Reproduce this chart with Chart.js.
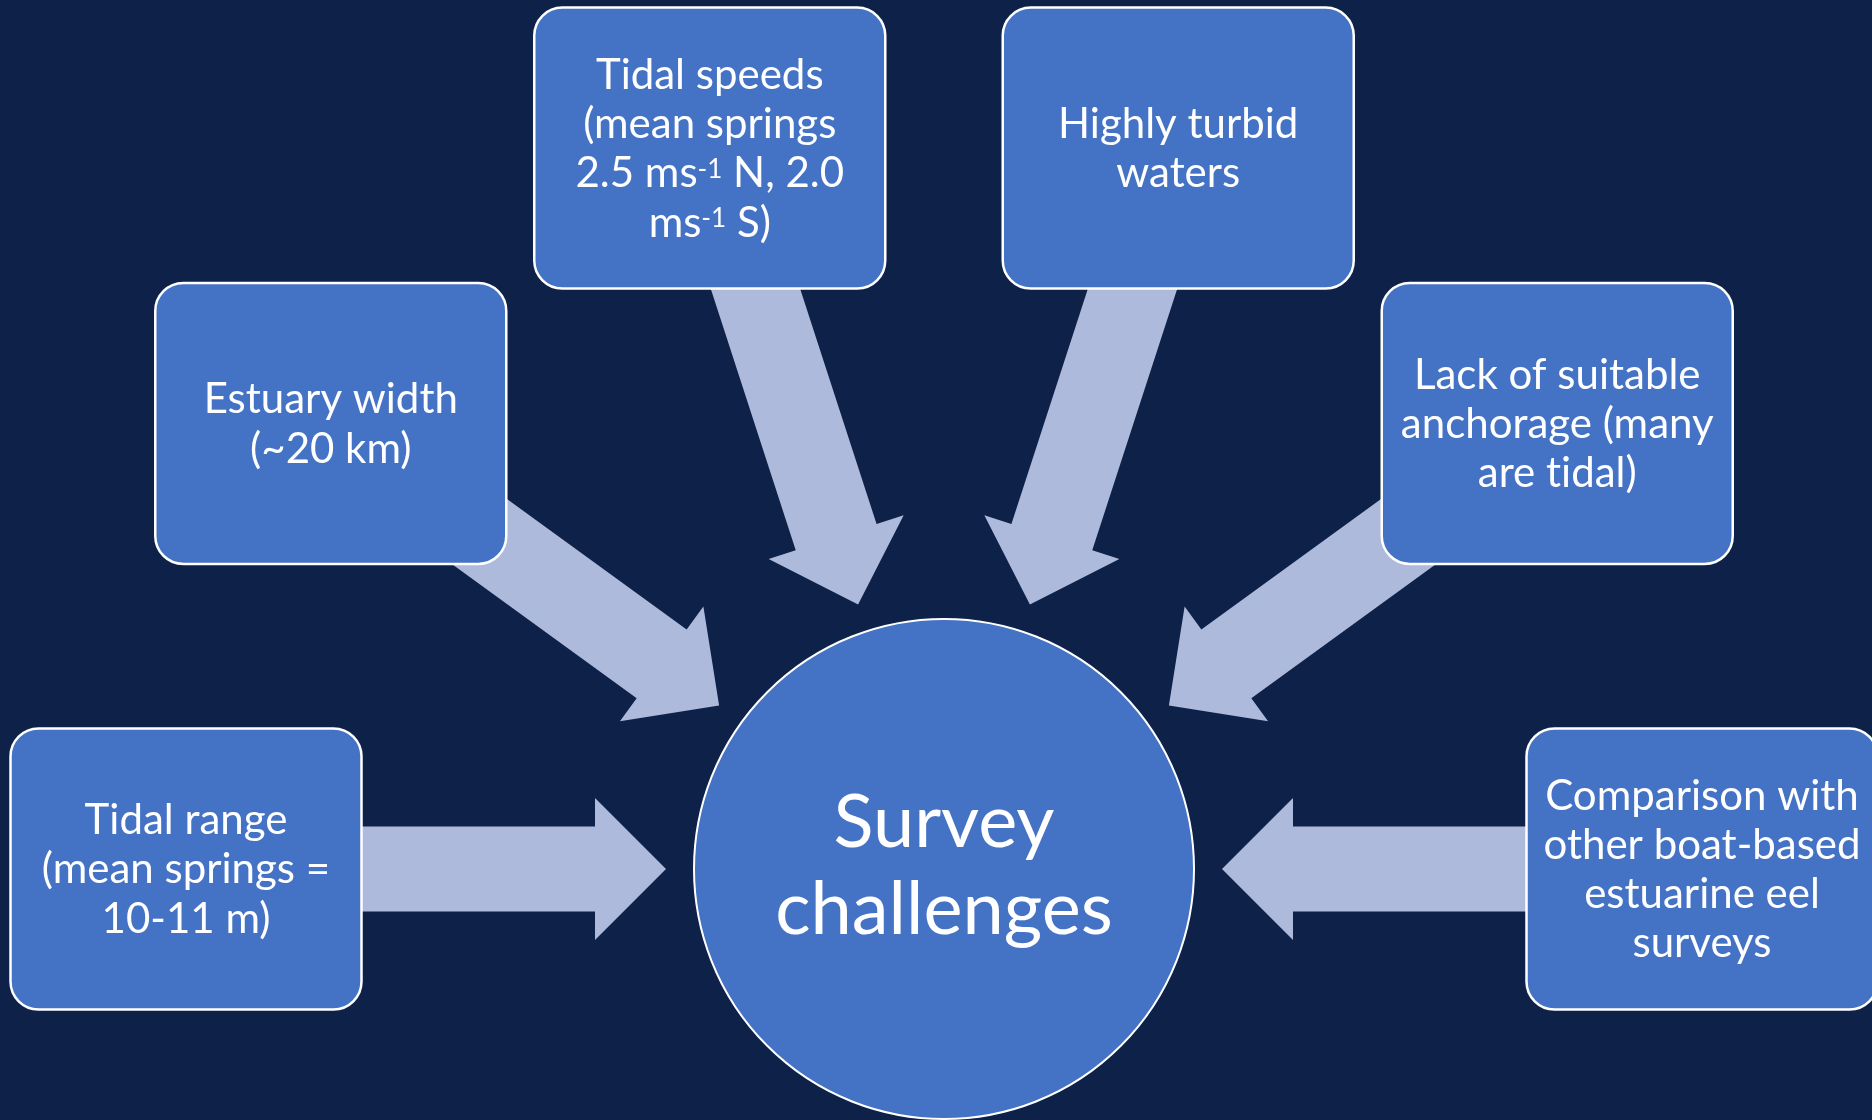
<!DOCTYPE html>
<html>
<head>
<meta charset="utf-8">
<script src="https://cdn.jsdelivr.net/npm/chart.js@4.4.1/dist/chart.umd.min.js"></script>
<style>
    html, body { margin: 0; padding: 0; background: #0e2148; }
    canvas { display: block; }
</style>
</head>
<body>
<canvas id="diagram" width="1872" height="1120"></canvas>
<script>
// Box texts, from the left box round to the right one (line breaks as on the slide)
// ^{..} marks a superscript
const challenges = [
    ['Tidal range', '(mean springs =', '10-11 m)'],
    ['Estuary width', '(~20 km)'],
    ['Tidal speeds', '(mean springs', '2.5 ms^{-1} N, 2.0', 'ms^{-1} S)'],
    ['Highly turbid', 'waters'],
    ['Lack of suitable', 'anchorage (many', 'are tidal)'],
    ['Comparison with', 'other boat-based', 'estuarine eel', 'surveys'],
];
const centreLabel = ['Survey', 'challenges'];

// layout (slide coordinates)
const nodeAngles = [180, 144, 108, 72, 36, 0]; // degrees, 0 = right
const centre = { x: 944, y: 869 };
const ringRadius = 758;
const circleRadius = 250;
const boxW = 351;
const boxH = 281;

const colors = {
    background: '#0e2148',
    box: '#4472c4',
    arrow: '#aebadc',
    stroke: '#ffffff',
    text: '#ffffff',
};

const boxFont = 42;
const boxLineHeight = 49.3;
const centreFont = 74;
const centreLineHeight = 87;

// split "ms^{-1} S)" into normal / superscript pieces
function splitSup(line) {
    const parts = [];
    const re = /\^\{([^}]*)\}/g;
    let last = 0;
    let m;
    while ((m = re.exec(line)) !== null) {
        if (m.index > last) parts.push({ text: line.slice(last, m.index), sup: false });
        parts.push({ text: m[1], sup: true });
        last = re.lastIndex;
    }
    if (last < line.length) parts.push({ text: line.slice(last), sup: false });
    return parts;
}

function drawLines(ctx, lines, cx, cy, size, lineHeight) {
    const capHalf = size * 0.69 / 2;
    ctx.fillStyle = colors.text;
    ctx.textBaseline = 'alphabetic';
    ctx.textAlign = 'left';
    ctx.textRendering = 'optimizeSpeed'; // no "ti" ligature
    lines.forEach((line, i) => {
        const parts = splitSup(line);
        let width = 0;
        parts.forEach((p) => {
            ctx.font = (p.sup ? size * 0.62 : size) + 'px Lato';
            p.w = ctx.measureText(p.text).width;
            width += p.w;
        });
        let x = cx - width / 2;
        const y = cy + (i - (lines.length - 1) / 2) * lineHeight + capHalf;
        parts.forEach((p) => {
            ctx.font = (p.sup ? size * 0.62 : size) + 'px Lato';
            ctx.fillText(p.text, x, p.sup ? y - size * 0.22 : y);
            x += p.w;
        });
    });
}

function roundRect(ctx, x, y, w, h, r) {
    ctx.beginPath();
    ctx.moveTo(x + r, y);
    ctx.arcTo(x + w, y, x + w, y + h, r);
    ctx.arcTo(x + w, y + h, x, y + h, r);
    ctx.arcTo(x, y + h, x, y, r);
    ctx.arcTo(x, y, x + w, y, r);
    ctx.closePath();
}

const diagramPlugin = {
    id: 'radialDiagram',
    beforeDraw(chart) {
        const ctx = chart.ctx;
        ctx.save();
        ctx.fillStyle = colors.background;
        ctx.fillRect(0, 0, chart.width, chart.height);
        ctx.restore();
    },
    afterDatasetsDraw(chart) {
        const ctx = chart.ctx;
        const xs = chart.scales.x;
        const ys = chart.scales.y;
        const px = (x, y) => [xs.getPixelForValue(x), ys.getPixelForValue(y)];

        ctx.save();

        // arrows first, the boxes sit on top of their tails
        nodeAngles.forEach((deg) => {
            const a = deg * Math.PI / 180;
            const ux = Math.cos(a);
            const uy = -Math.sin(a);
            const nx = -uy;
            const ny = ux;
            const at = (r, off) => px(centre.x + ux * r + nx * off, centre.y + uy * r + ny * off);
            const pts = [
                at(680, 42.5), at(349, 42.5), at(349, 71), at(278, 0),
                at(349, -71), at(349, -42.5), at(680, -42.5),
            ];
            ctx.beginPath();
            pts.forEach((p, i) => (i ? ctx.lineTo(p[0], p[1]) : ctx.moveTo(p[0], p[1])));
            ctx.closePath();
            ctx.fillStyle = colors.arrow;
            ctx.fill();
        });

        // boxes
        nodeAngles.forEach((deg, i) => {
            const a = deg * Math.PI / 180;
            const [cx, cy] = px(centre.x + Math.cos(a) * ringRadius, centre.y - Math.sin(a) * ringRadius);
            roundRect(ctx, cx - boxW / 2, cy - boxH / 2, boxW, boxH, 28);
            ctx.fillStyle = colors.box;
            ctx.fill();
            ctx.lineWidth = 2.5;
            ctx.strokeStyle = colors.stroke;
            ctx.stroke();
            drawLines(ctx, challenges[i], cx, cy, boxFont, boxLineHeight);
        });

        // centre circle
        const [ccx, ccy] = px(centre.x, centre.y);
        ctx.beginPath();
        ctx.arc(ccx, ccy, circleRadius, 0, Math.PI * 2);
        ctx.fillStyle = colors.box;
        ctx.fill();
        ctx.lineWidth = 2;
        ctx.strokeStyle = colors.stroke;
        ctx.stroke();
        drawLines(ctx, centreLabel, ccx, ccy - 4, centreFont, centreLineHeight);

        ctx.restore();
    },
};

new Chart(document.getElementById('diagram'), {
    type: 'scatter',
    data: { datasets: [{ data: [], pointRadius: 0 }] },
    options: {
        responsive: false,
        animation: false,
        devicePixelRatio: 1,
        layout: { padding: 0 },
        plugins: { legend: { display: false }, tooltip: { enabled: false } },
        scales: {
            x: { type: 'linear', min: 0, max: 1872, display: false },
            y: { type: 'linear', min: 0, max: 1120, reverse: true, display: false },
        },
    },
    plugins: [diagramPlugin],
});
</script>
</body>
</html>
